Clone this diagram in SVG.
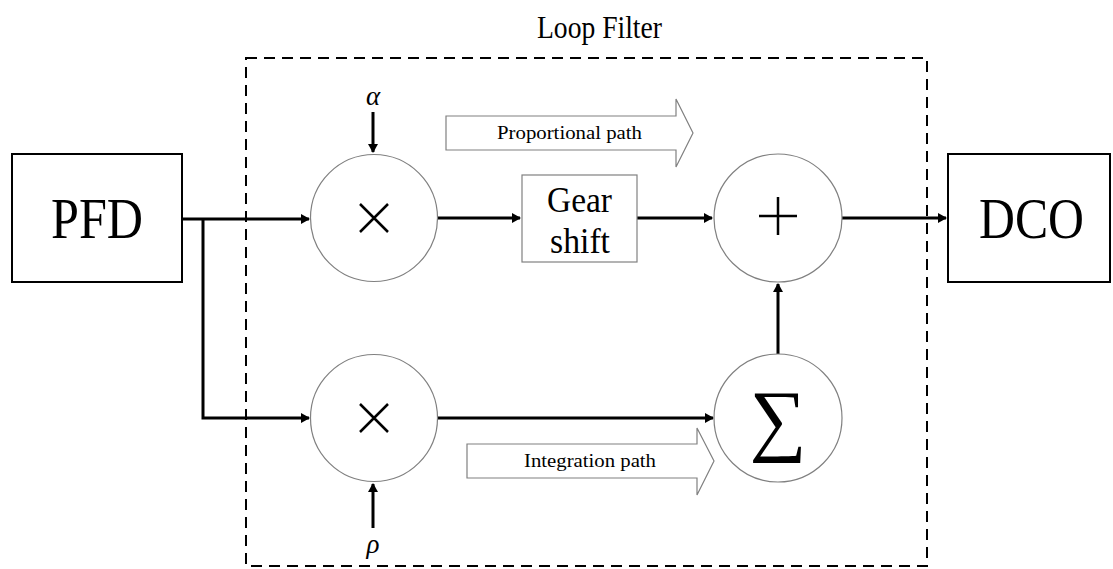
<svg xmlns="http://www.w3.org/2000/svg" width="1113" height="569" viewBox="0 0 1113 569">
<style>
.box{fill:#fff;stroke:#000;stroke-width:2}
.circ{fill:#fff;stroke:#808080;stroke-width:1.2}
.gbox{fill:#fff;stroke:#808080;stroke-width:1.2}
.conn{fill:none;stroke:#000;stroke-width:3}
.big{font-family:"Liberation Serif",serif;fill:#000}
.dash{fill:none;stroke:#000;stroke-width:2;stroke-dasharray:11 7}
.sym{stroke:#000;stroke-width:2.5;fill:none}
</style>
<defs>
<marker id="ah" markerWidth="10" markerHeight="10" refX="8" refY="5" orient="auto" markerUnits="userSpaceOnUse">
<path d="M0,0 L9,5 L0,10 Z" fill="#000"/>
</marker>
</defs>
<rect width="1113" height="569" fill="#fff"/>
<g id="loopfilter">
<rect class="dash" x="246" y="58" width="681" height="508"/>
<text class="big" x="537" y="38" font-size="31" textLength="125" lengthAdjust="spacingAndGlyphs">Loop Filter</text>
</g>
<g id="connectors">
<path class="conn" d="M182,219 H309" marker-end="url(#ah)"/>
<path class="conn" d="M203,219 V418 H309" marker-end="url(#ah)"/>
<path class="conn" d="M373,112 V152" marker-end="url(#ah)"/>
<path class="conn" d="M373,528 V484" marker-end="url(#ah)"/>
<path class="conn" d="M437,218 H520" marker-end="url(#ah)"/>
<path class="conn" d="M637,218 H712" marker-end="url(#ah)"/>
<path class="conn" d="M437,418 H713" marker-end="url(#ah)"/>
<path class="conn" d="M778,354 V284" marker-end="url(#ah)"/>
<path class="conn" d="M842,218 H946" marker-end="url(#ah)"/>
</g>
<g id="pfd">
<rect class="box" x="12" y="154" width="170" height="128"/>
<text class="big" x="51" y="238" font-size="58" textLength="92" lengthAdjust="spacingAndGlyphs">PFD</text>
</g>
<g id="dco">
<rect class="box" x="948" y="154" width="162" height="128"/>
<text class="big" x="979" y="238" font-size="58" textLength="105" lengthAdjust="spacingAndGlyphs">DCO</text>
</g>
<g id="mult1">
<circle class="circ" cx="374" cy="218" r="63.5"/>
<path class="sym" d="M360,204 L388,232 M388,204 L360,232"/>
</g>
<g id="alpha">
<text class="big" x="373" y="105" font-size="27" font-style="italic" text-anchor="middle" fill="#555">α</text>
</g>
<g id="mult2">
<circle class="circ" cx="374" cy="418" r="63.5"/>
<path class="sym" d="M360,404 L388,432 M388,404 L360,432"/>
</g>
<g id="rho">
<text class="big" x="373" y="553" font-size="27" font-style="italic" text-anchor="middle" fill="#555">ρ</text>
</g>
<g id="gearshift">
<rect class="gbox" x="522" y="175" width="115" height="87"/>
<text class="big" x="547" y="212" font-size="35" textLength="65" lengthAdjust="spacingAndGlyphs">Gear</text>
<text class="big" x="550" y="253" font-size="35" textLength="60" lengthAdjust="spacingAndGlyphs">shift</text>
</g>
<g id="adder">
<circle class="circ" cx="778" cy="218" r="64"/>
<path class="sym" d="M759,216 H797 M778,197 V235"/>
</g>
<g id="sigma">
<circle class="circ" cx="778" cy="418" r="64"/>
<text class="big" x="778" y="446" font-size="80" text-anchor="middle">∑</text>
</g>
<g id="proppath">
<path class="gbox" d="M446,116 H676 V99 L693,133 L676,167 V150 H446 Z"/>
<text class="big" x="497" y="139" font-size="19" textLength="145" lengthAdjust="spacingAndGlyphs">Proportional path</text>
</g>
<g id="intpath">
<path class="gbox" d="M467,444 H697 V428 L714,461 L697,495 V478 H467 Z"/>
<text class="big" x="524" y="467" font-size="19" textLength="132" lengthAdjust="spacingAndGlyphs">Integration path</text>
</g>
</svg>
